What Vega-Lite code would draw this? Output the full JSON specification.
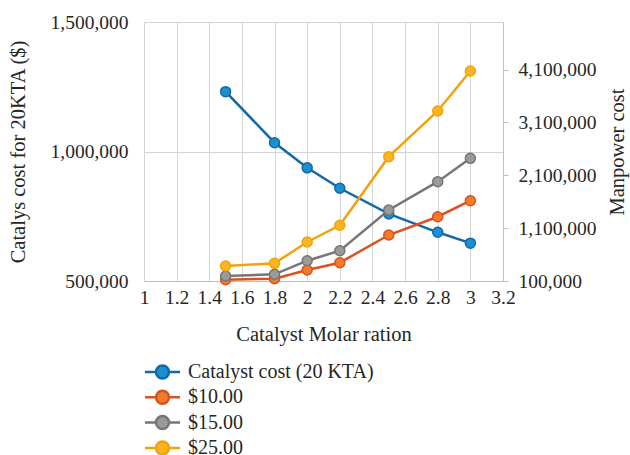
{
  "$schema": "https://vega.github.io/schema/vega-lite/v6.json",
  "width": 359,
  "height": 259,
  "autosize": {"type": "none"},
  "padding": {"left": 144, "top": 22, "right": 127, "bottom": 174},
  "background": "white",
  "datasets": {
    "catalyst": [
      {"ratio": 1.5, "series": "Catalyst cost (20 KTA)", "cost": 1231000},
      {"ratio": 1.8, "series": "Catalyst cost (20 KTA)", "cost": 1034000},
      {"ratio": 2.0, "series": "Catalyst cost (20 KTA)", "cost": 937000},
      {"ratio": 2.2, "series": "Catalyst cost (20 KTA)", "cost": 858000},
      {"ratio": 2.5, "series": "Catalyst cost (20 KTA)", "cost": 759000},
      {"ratio": 2.8, "series": "Catalyst cost (20 KTA)", "cost": 688000},
      {"ratio": 3.0, "series": "Catalyst cost (20 KTA)", "cost": 646000}
    ],
    "manpower": [
      {"ratio": 1.5, "series": "$10.00", "cost": 125000},
      {"ratio": 1.8, "series": "$10.00", "cost": 144000},
      {"ratio": 2.0, "series": "$10.00", "cost": 308000},
      {"ratio": 2.2, "series": "$10.00", "cost": 446000},
      {"ratio": 2.5, "series": "$10.00", "cost": 970000},
      {"ratio": 2.8, "series": "$10.00", "cost": 1316000},
      {"ratio": 3.0, "series": "$10.00", "cost": 1619000},
      {"ratio": 1.5, "series": "$15.00", "cost": 195000},
      {"ratio": 1.8, "series": "$15.00", "cost": 227000},
      {"ratio": 2.0, "series": "$15.00", "cost": 484000},
      {"ratio": 2.2, "series": "$15.00", "cost": 673000},
      {"ratio": 2.5, "series": "$15.00", "cost": 1443000},
      {"ratio": 2.8, "series": "$15.00", "cost": 1979000},
      {"ratio": 3.0, "series": "$15.00", "cost": 2421000},
      {"ratio": 1.5, "series": "$25.00", "cost": 384000},
      {"ratio": 1.8, "series": "$25.00", "cost": 434000},
      {"ratio": 2.0, "series": "$25.00", "cost": 838000},
      {"ratio": 2.2, "series": "$25.00", "cost": 1154000},
      {"ratio": 2.5, "series": "$25.00", "cost": 2452000},
      {"ratio": 2.8, "series": "$25.00", "cost": 3316000},
      {"ratio": 3.0, "series": "$25.00", "cost": 4073000}
    ]
  },
  "config": {
    "font": "Liberation Serif",
    "view": {"stroke": null},
    "axis": {
      "labelFont": "Liberation Serif",
      "labelFontSize": 19.5,
      "labelColor": "#262626",
      "titleFont": "Liberation Serif",
      "titleFontSize": 20.5,
      "titleFontWeight": "normal",
      "titleColor": "#262626",
      "gridColor": "#d4d4d4",
      "gridWidth": 1,
      "domainColor": "#bfbfbf",
      "tickColor": "#bfbfbf",
      "labelOverlap": false
    }
  },
  "encoding": {
    "x": {
      "field": "ratio",
      "type": "quantitative",
      "scale": {"domain": [1, 3.2], "nice": false, "zero": false},
      "axis": {
        "title": "Catalyst Molar ration",
        "values": [1, 1.2, 1.4, 1.6, 1.8, 2, 2.2, 2.4, 2.6, 2.8, 3, 3.2],
        "format": "~g",
        "grid": true,
        "ticks": false,
        "tickSize": 0,
        "labelPadding": 7,
        "labelFlush": false,
        "titlePadding": 18
      }
    }
  },
  "layer": [
    {
      "data": {"name": "catalyst"},
      "encoding": {
        "y": {
          "field": "cost",
          "type": "quantitative",
          "scale": {"domain": [500000, 1500000], "nice": false, "zero": false},
          "axis": {
            "title": "Catalys cost for 20KTA ($)",
            "values": [500000, 1000000, 1500000],
            "format": ",.0f",
            "grid": true,
            "ticks": false,
            "tickSize": 0,
            "domain": false,
            "labelPadding": 16,
            "titlePadding": 22
          }
        }
      },
      "layer": [
        {
          "mark": {"type": "line", "strokeWidth": 2.5},
          "encoding": {
            "stroke": {
              "field": "series",
              "type": "nominal",
              "scale": {
                "domain": ["Catalyst cost (20 KTA)", "$10.00", "$15.00", "$25.00"],
                "range": ["#1369a8", "#d8531d", "#767676", "#f2a30c"]
              }
            }
          }
        },
        {
          "mark": {"type": "circle", "size": 100, "strokeWidth": 1.5, "opacity": 1},
          "encoding": {
            "fill": {
              "field": "series",
              "type": "nominal",
              "scale": {
                "domain": ["Catalyst cost (20 KTA)", "$10.00", "$15.00", "$25.00"],
                "range": ["#1b8fd0", "#f07b2c", "#9a9a9a", "#fbb521"]
              },
              "legend": {
                "title": null,
                "orient": "none",
                "legendX": 8.5,
                "legendY": 340,
                "symbolType": "M-2.7,0H-1M1,0H2.7M-1,0A1,1 0 1,0 1,0A1,1 0 1,0 -1,0",
                "symbolSize": 169,
                "symbolStrokeWidth": 2.5,
                "labelOffset": 15.5,
                "labelFont": "Liberation Serif",
                "labelFontSize": 20,
                "labelColor": "#262626",
                "labelLimit": 400,
                "rowPadding": 1.3,
                "padding": 0
              }
            },
            "stroke": {
              "field": "series",
              "type": "nominal",
              "legend": {
                "title": null,
                "orient": "none",
                "legendX": 8.5,
                "legendY": 340,
                "symbolType": "M-2.7,0H-1M1,0H2.7M-1,0A1,1 0 1,0 1,0A1,1 0 1,0 -1,0",
                "symbolSize": 169,
                "symbolStrokeWidth": 2.5,
                "labelOffset": 15.5,
                "labelFont": "Liberation Serif",
                "labelFontSize": 20,
                "labelColor": "#262626",
                "labelLimit": 400,
                "rowPadding": 1.3,
                "padding": 0
              }
            }
          }
        }
      ]
    },
    {
      "data": {"name": "manpower"},
      "encoding": {
        "y": {
          "field": "cost",
          "type": "quantitative",
          "scale": {"domain": [100000, 5000000], "nice": false, "zero": false},
          "axis": {
            "orient": "right",
            "title": "Manpower cost",
            "titleAngle": 270,
            "values": [100000, 1100000, 2100000, 3100000, 4100000],
            "format": ",.0f",
            "grid": false,
            "ticks": true,
            "tickSize": 5,
            "domain": true,
            "labelPadding": 10,
            "titlePadding": 31
          }
        }
      },
      "layer": [
        {
          "mark": {"type": "line", "strokeWidth": 2.5},
          "encoding": {
            "stroke": {"field": "series", "type": "nominal"}
          }
        },
        {
          "mark": {"type": "circle", "size": 100, "strokeWidth": 1.5, "opacity": 1},
          "encoding": {
            "fill": {"field": "series", "type": "nominal"},
            "stroke": {"field": "series", "type": "nominal"}
          }
        }
      ]
    }
  ],
  "resolve": {"scale": {"y": "independent"}}
}
